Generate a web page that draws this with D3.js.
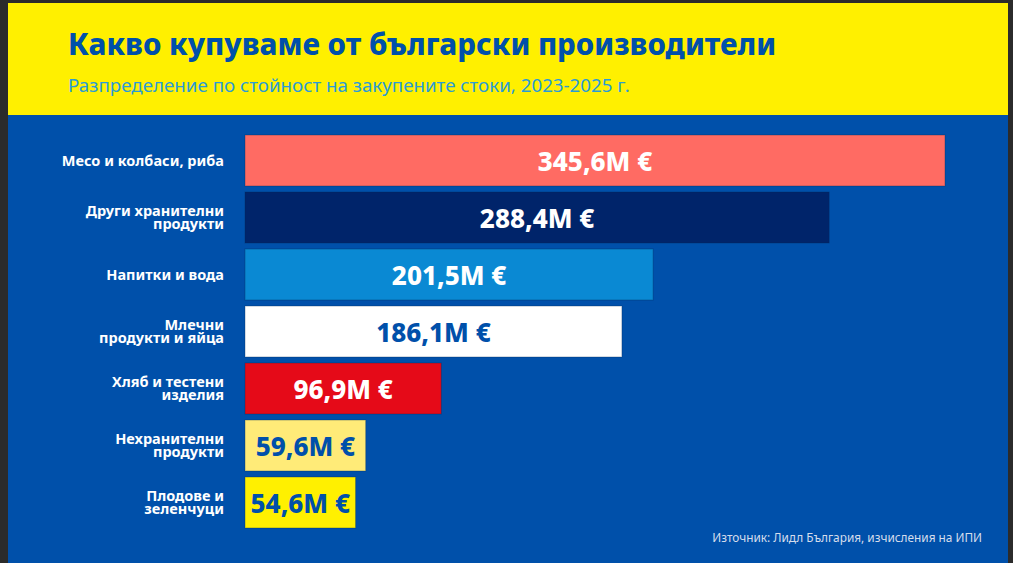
<!DOCTYPE html>
<html>
<head>
<meta charset="utf-8">
<script src="https://cdn.jsdelivr.net/npm/d3@7"></script>
<style>
  html, body { margin: 0; padding: 0; background: #2b2b2b; }
  svg { display: block; }
</style>
</head>
<body>
<svg id="chart" width="1013" height="563"></svg>
<script>
// ---- data ----
const titleText = "Какво купуваме от български производители";
const subtitleText = "Разпределение по стойност на закупените стоки, 2023-2025 г.";
const sourceText = "Източник: Лидл България, изчисления на ИПИ";
const categories = [
  "Месо и колбаси, риба",
  "Други хранителни|продукти",
  "Напитки и вода",
  "Млечни|продукти и яйца",
  "Хляб и тестени|изделия",
  "Нехранителни|продукти",
  "Плодове и|зеленчуци"
];
const values = [345.6, 288.4, 201.5, 186.1, 96.9, 59.6, 54.6];
const valueUnit = "M €";

// ---- styles ----
const barColors = ["#ff6b63", "#00246a", "#0a89d3", "#ffffff", "#e50a18", "#ffeb78", "#fff000"];
const valueTextColors = ["#ffffff", "#ffffff", "#ffffff", "#0050aa", "#ffffff", "#0050aa", "#0050aa"];
const BLUE = "#0050aa", YELLOW = "#fff000";
const FONT = "'Noto Sans', 'Open Sans', 'DejaVu Sans', sans-serif";

const svg = d3.select("#chart");
const W = 1013, H = 563;

// frame / panels
svg.append("rect").attr("x", 0).attr("y", 0).attr("width", W).attr("height", H).attr("fill", "#2b2b2b");
svg.append("rect").attr("x", 8).attr("y", 3).attr("width", 1000).attr("height", 112).attr("fill", YELLOW);
svg.append("rect").attr("x", 8).attr("y", 115).attr("width", 1000).attr("height", H - 115).attr("fill", BLUE);

function fitText(sel, targetWidth) {
  const node = sel.node();
  const fs = parseFloat(sel.attr("font-size"));
  const w = node.getComputedTextLength();
  if (w > 0) sel.attr("font-size", (fs * targetWidth / w).toFixed(2));
}

// title
const title = svg.append("text")
  .attr("x", 68).attr("y", 55)
  .attr("font-family", FONT).attr("font-weight", 800).attr("font-size", 30)
  .attr("fill", BLUE).text(titleText);
fitText(title, 708);

const subtitle = svg.append("text")
  .attr("x", 68).attr("y", 91.5)
  .attr("font-family", FONT).attr("font-weight", 400).attr("font-size", 17)
  .attr("fill", "#2a9bd6").text(subtitleText);
fitText(subtitle, 562);

// scales
const y = d3.scaleBand()
  .domain(categories)
  .range([135, 528])
  .paddingInner(6 / 57)
  .paddingOuter(0);

const x = d3.scaleLinear()
  .domain([0, 345.6])
  .range([245, 945]);

const fmt = v => d3.format(".1f")(v).replace(".", ",") + valueUnit;

const rows = svg.append("g").selectAll("g")
  .data(categories.map((c, i) => ({ c, v: values[i], i })))
  .join("g");

rows.append("rect")
  .attr("x", x(0))
  .attr("y", d => y(d.c))
  .attr("width", d => x(d.v) - x(0))
  .attr("height", y.bandwidth())
  .attr("fill", d => barColors[d.i])
  .attr("stroke", "rgba(0,40,90,0.35)")
  .attr("stroke-width", 1);

rows.append("text")
  .attr("x", d => (x(0) + x(d.v)) / 2)
  .attr("y", d => y(d.c) + y.bandwidth() / 2 + 10.5)
  .attr("text-anchor", "middle")
  .attr("font-family", FONT).attr("font-weight", 800).attr("font-size", 26)
  .attr("fill", d => valueTextColors[d.i])
  .text(d => fmt(d.v));

// category labels
rows.each(function (d) {
  const lines = d.c.split("|");
  const lh = 13.5;
  const cy = y(d.c) + y.bandwidth() / 2;
  const firstBaseline = cy - (lines.length - 1) * lh / 2 + 5;
  const t = d3.select(this).append("text")
    .attr("text-anchor", "end")
    .attr("font-family", FONT).attr("font-weight", 700).attr("font-size", 14.5)
    .attr("fill", "#ffffff");
  lines.forEach((ln, k) => {
    t.append("tspan").attr("x", 224).attr("y", firstBaseline + k * lh).text(ln);
  });
});

// source
const src = svg.append("text")
  .attr("x", 982).attr("y", 542)
  .attr("text-anchor", "end")
  .attr("font-family", FONT).attr("font-size", 11.5)
  .attr("fill", "#d5ddec").text(sourceText);
fitText(src, 270);
</script>
</body>
</html>
